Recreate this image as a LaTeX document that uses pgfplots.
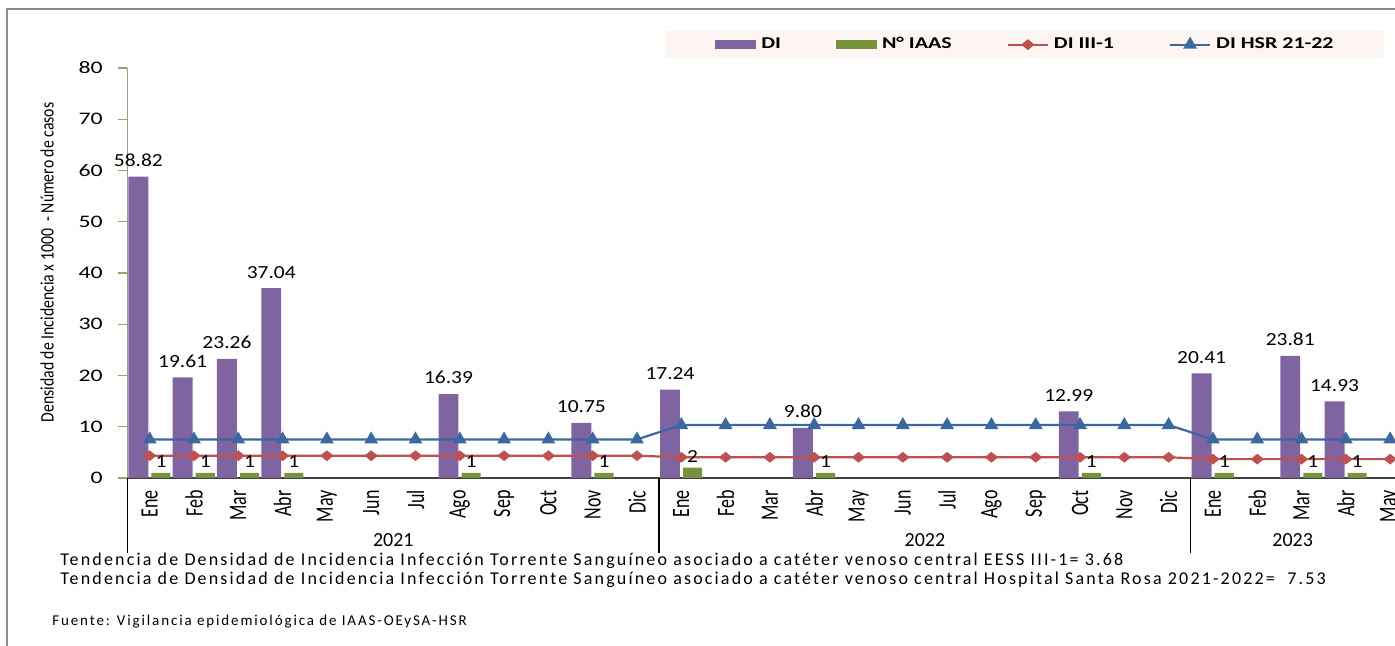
\documentclass[border=0pt]{standalone}
\usepackage{fontspec}
\setmainfont{Carlito}
\newfontfamily\tickfont{Carlito}[FakeStretch=1.35]
\newfontfamily\labfont{Carlito}[FakeStretch=1.16]
\newfontfamily\monthfont{Carlito}[FakeStretch=0.72]
\newfontfamily\ylabfont{Carlito}[FakeStretch=0.83]
\newfontfamily\legfont{Carlito}[FakeStretch=1.33]
\newfontfamily\fuentefont{Carlito}[LetterSpace=12.5]
\newfontfamily\tendfont{Carlito}[LetterSpace=12]
\usepackage{pgfplots}
\pgfplotsset{compat=1.18}
\pgfplotsset{/pgf/number format/assume math mode=true}
\definecolor{diP}{HTML}{8064A2}
\definecolor{iaasG}{HTML}{77933C}
\definecolor{redL}{HTML}{C0504D}
\definecolor{blueL}{HTML}{3B689F}
\definecolor{legBg}{HTML}{FDF5F1}
\definecolor{axTan}{HTML}{A39B73}
\definecolor{frameG}{HTML}{8C8C8C}
\pgfplotsset{
  barleg/.style={legend image code/.code={\fill[##1] (0pt,-2.25pt) rectangle (20.5pt,2.25pt);}},
  lineleg/.style={legend image code/.code={\draw[##1, mark repeat=2, mark phase=2] plot coordinates {(0pt,0pt) (10pt,0pt) (20pt,0pt)};}},
}
\begin{document}
\begin{tikzpicture}
\path[use as bounding box] (-63.75pt,-84pt) rectangle (633.75pt,239pt);
\draw[frameG, line width=0.75pt] (-60.25pt,-84pt) -- (-60.25pt,234.5pt) -- (640pt,234.5pt);
\begin{axis}[
  scale only axis, width=633.75pt, height=205pt,
  xmin=-0.5, xmax=28.11, ymin=0, ymax=80,
  clip=false,
  axis lines*=left,
  x axis line style={draw=black!75, line width=0.75pt},
  y axis line style={draw=axTan, line width=0.75pt},
  ytick={0,10,...,80},
  ytick style={draw=axTan, line width=0.6pt},
  major tick length=4.5pt, tick align=outside,
  xtick={0,...,28},
  xticklabels={Ene,Feb,Mar,Abr,May,Jun,Jul,Ago,Sep,Oct,Nov,Dic,Ene,Feb,Mar,Abr,May,Jun,Jul,Ago,Sep,Oct,Nov,Dic,Ene,Feb,Mar,Abr,May},
  xtick style={draw=none},
  xticklabel style={rotate=90, anchor=east, inner sep=0pt, font=\monthfont\fontsize{12.5pt}{12pt}\selectfont},
  xticklabel shift=1.5pt,
  yticklabel style={anchor=east, inner sep=0pt, xshift=-7.75pt, font=\tickfont\fontsize{8.8pt}{10pt}\selectfont},
  ylabel={Densidad de Incidencia x 1000 \ - Número de casos},
  ylabel style={at={(axis description cs:-0.0635,0.5256)}, anchor=center, inner sep=0pt, font=\ylabfont\fontsize{9.5pt}{10pt}\selectfont},
  legend columns=4,
  legend style={at={(axis description cs:0.4240,1.0902)}, anchor=north west, fill=legBg, draw=none,
    inner xsep=25pt, inner ysep=3pt,
    nodes={inner sep=0pt},
    font=\legfont\bfseries\fontsize{8.25pt}{10pt}\selectfont,
    /tikz/every even column/.append style={column sep=27.5pt},
    /tikz/every odd column/.append style={column sep=2.5pt}},
]
\addplot[ybar, bar width=0.45, bar shift=-0.255, fill=diP, draw=none, barleg,
  nodes near coords={\pgfmathprintnumber[fixed, fixed zerofill, precision=2]{\pgfplotspointmeta}},
  every node near coord/.append style={anchor=south, inner sep=0pt, xshift=-5.65pt, yshift=4.75pt, text=black, font=\labfont\fontsize{9.25pt}{10pt}\selectfont}]
  coordinates {(0,58.82) (1,19.61) (2,23.26) (3,37.04) (7,16.39) (10,10.75) (12,17.24) (15,9.80) (21,12.99) (24,20.41) (26,23.81) (27,14.93)};
\addlegendentry{DI}
\addplot[ybar, bar width=0.43, bar shift=0.255, fill=iaasG, draw=none, barleg,
  nodes near coords={\pgfmathprintnumber[fixed, precision=0]{\pgfplotspointmeta}},
  every node near coord/.append style={anchor=south, inner sep=0pt, xshift=5.65pt, yshift=2.5pt, text=black, font=\labfont\fontsize{9.25pt}{10pt}\selectfont}]
  coordinates {(0,1) (1,1) (2,1) (3,1) (7,1) (10,1) (12,2) (15,1) (21,1) (24,1) (26,1) (27,1)};
\addlegendentry{N° IAAS}
\addplot[redL, line width=1.1pt, mark=diamond*, mark size=2pt, mark options={xscale=1.65, solid}, lineleg]
  coordinates {(0,4.35) (1,4.35) (2,4.35) (3,4.35) (4,4.35) (5,4.35) (6,4.35) (7,4.35) (8,4.35) (9,4.35) (10,4.35) (11,4.35)
  (12,4.04) (13,4.04) (14,4.04) (15,4.04) (16,4.04) (17,4.04) (18,4.04) (19,4.04) (20,4.04) (21,4.04) (22,4.04) (23,4.04)
  (24,3.68) (25,3.68) (26,3.68) (27,3.68) (28,3.68)};
\addlegendentry{DI III-1}
\addplot[blueL, line width=1.1pt, mark=triangle*, mark size=2.9pt, mark options={solid}, lineleg]
  coordinates {(0,7.53) (1,7.53) (2,7.53) (3,7.53) (4,7.53) (5,7.53) (6,7.53) (7,7.53) (8,7.53) (9,7.53) (10,7.53) (11,7.53)
  (12,10.34) (13,10.34) (14,10.34) (15,10.34) (16,10.34) (17,10.34) (18,10.34) (19,10.34) (20,10.34) (21,10.34) (22,10.34) (23,10.34)
  (24,7.53) (25,7.53) (26,7.53) (27,7.53) (28,7.53)};
\addlegendentry{DI HSR 21-22}
\draw[black, line width=0.7pt] (axis cs:-0.5,0) -- ++(0pt,-37.5pt);
\draw[black, line width=0.7pt] (axis cs:11.5,0) -- ++(0pt,-37.5pt);
\draw[black, line width=0.7pt] (axis cs:23.5,0) -- ++(0pt,-37.5pt);
\node[font=\fontsize{10pt}{12pt}\selectfont, inner sep=0pt] at ([yshift=-31pt]axis cs:5.5,0) {2021};
\node[font=\fontsize{10pt}{12pt}\selectfont, inner sep=0pt] at ([yshift=-31pt]axis cs:17.5,0) {2022};
\node[font=\fontsize{10pt}{12pt}\selectfont, inner sep=0pt] at ([yshift=-31pt]axis cs:25.8,0) {2023};
\end{axis}
\node[anchor=west, inner sep=0pt, font=\tendfont\fontsize{9pt}{10pt}\selectfont] at (-33.75pt,-41.5pt) {Tendencia de Densidad de Incidencia Infección Torrente Sanguíneo asociado a catéter venoso central EESS III-1= 3.68};
\node[anchor=west, inner sep=0pt, font=\tendfont\fontsize{9pt}{10pt}\selectfont] at (-33.75pt,-51pt) {Tendencia de Densidad de Incidencia Infección Torrente Sanguíneo asociado a catéter venoso central Hospital Santa Rosa 2021-2022= \ 7.53};
\node[anchor=west, inner sep=0pt, font=\fuentefont\fontsize{7.5pt}{8pt}\selectfont] at (-37.75pt,-72pt) {Fuente: Vigilancia epidemiológica de IAAS-OEySA-HSR};
\end{tikzpicture}
\end{document}
